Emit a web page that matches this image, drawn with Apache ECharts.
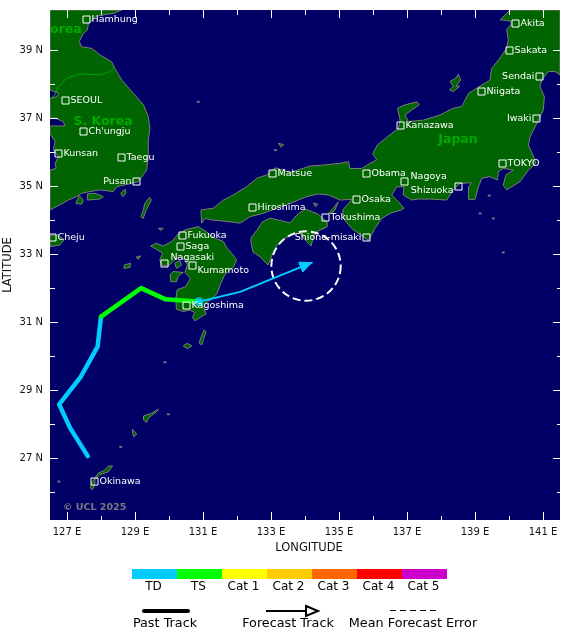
<!DOCTYPE html>
<html><head><meta charset="utf-8">
<style>html,body{margin:0;padding:0;background:#fff}#c{width:580px;height:639px}</style>
<script src="https://cdn.jsdelivr.net/npm/echarts@6/dist/echarts.min.js"></script>
</head><body><div id="c"></div>
<script>
// ---- data (degrees longitude, latitude) ----
const lonMajor=[127,129,131,133,135,137,139,141];
const lonMinor=[128,130,132,134,136,138,140];
const latMajor=[27,29,31,33,35,37,39];
const latMinor=[26,28,30,32,34,36,38];
const pastTD=[[127.61,27.06],[127.09,27.89],[126.77,28.58],[127.41,29.40],[127.90,30.28],[128.0,31.16]];
const pastTS=[[128.0,31.16],[129.18,32.0],[129.90,31.67],[130.88,31.60]];
const forecastTrack=[[130.88,31.60],[132.09,31.89],[134.20,32.75]];
const currentPos=[[130.88,31.60]];
const errorCircle=[[134.03,32.65,1.02]];
const koreaBorder=[[126.52,37.58],[126.65,37.68],[126.72,37.91],[126.99,38.17],[127.38,38.30],[127.97,38.27],[128.26,38.37],[128.41,38.51]];
const korea=[[126.5,40.18],[128.61,40.18],[128.36,40.08],[127.87,40.00],[127.63,39.79],[127.60,39.59],[127.48,39.49],[127.36,39.25],[127.43,39.10],[127.73,39.05],[127.97,38.86],[128.31,38.66],[128.41,38.46],[128.61,38.12],[128.95,37.73],[129.25,37.39],[129.39,37.04],[129.44,36.70],[129.39,36.36],[129.39,35.87],[129.34,35.47],[129.10,35.13],[128.90,35.08],[128.46,34.98],[128.36,34.84],[127.97,34.89],[127.68,34.84],[127.43,34.79],[127.28,34.69],[127.04,34.59],[126.79,34.45],[126.5,34.30],[126.5,35.47],[126.68,35.52],[126.65,35.67],[126.75,35.87],[126.60,36.06],[126.65,36.31],[126.5,36.55],[126.5,36.77],[126.94,36.77],[126.89,36.90],[126.65,37.0],[126.5,37.0],[126.5,37.58],[126.70,37.63],[126.75,37.73],[126.5,37.83]];
const honshu=[[130.94,34.30],[131.30,34.35],[131.60,34.59],[131.89,34.74],[132.28,34.98],[132.58,35.23],[132.87,35.33],[133.12,35.54],[133.36,35.47],[133.56,35.40],[134.15,35.59],[134.54,35.62],[135.03,35.67],[135.28,35.72],[135.32,35.52],[135.67,35.52],[135.91,35.67],[136.11,35.77],[135.99,35.95],[136.13,36.21],[136.50,36.51],[136.75,36.70],[136.80,36.94],[136.72,37.29],[136.94,37.39],[137.29,37.48],[137.36,37.39],[137.14,37.24],[136.94,37.09],[137.04,36.90],[137.48,36.94],[137.97,37.09],[138.36,37.29],[138.61,37.34],[138.81,37.73],[139.05,37.88],[139.44,38.12],[139.49,38.46],[139.69,38.71],[139.93,39.05],[139.98,39.30],[139.93,39.59],[140.08,39.79],[139.98,39.87],[139.74,39.89],[140.03,40.18],[141.5,40.18],[141.5,38.27],[141.35,38.37],[141.16,38.37],[140.96,38.12],[140.91,37.93],[141.04,37.63],[141.01,37.24],[140.82,36.85],[140.62,36.45],[140.57,36.21],[140.72,35.87],[140.79,35.67],[140.57,35.47],[140.32,35.13],[139.93,34.89],[139.83,35.03],[139.91,35.33],[140.13,35.47],[139.83,35.52],[139.69,35.43],[139.66,35.18],[139.44,35.28],[139.20,35.23],[139.10,34.98],[139.0,34.61],[138.81,34.61],[138.81,34.98],[138.90,35.10],[138.56,35.08],[138.36,34.89],[138.17,34.59],[137.68,34.62],[137.33,34.62],[137.14,34.59],[136.89,34.74],[136.91,34.98],[136.70,34.98],[136.55,34.74],[136.75,34.54],[136.91,34.35],[136.84,34.30],[136.50,34.20],[136.26,34.05],[136.06,33.76],[135.86,33.40],[135.57,33.61],[135.37,33.76],[135.13,34.05],[135.11,34.30],[135.28,34.49],[135.37,34.61],[135.03,34.59],[134.69,34.74],[134.39,34.77],[134.05,34.69],[133.56,34.49],[132.77,34.20],[132.38,34.10],[132.09,33.91],[131.79,33.95],[131.30,34.0],[131.06,34.05],[130.96,33.91]];
const shikoku=[[132.41,33.47],[132.59,33.71],[132.74,33.94],[132.97,34.06],[133.56,33.92],[133.76,34.15],[134.0,34.33],[134.38,34.18],[134.65,33.94],[134.65,33.80],[134.38,33.68],[134.24,33.50],[134.18,33.24],[134.0,33.42],[133.85,33.62],[133.71,33.59],[133.41,33.47],[133.18,33.27],[133.03,32.97],[132.91,32.68],[132.68,32.92],[132.47,33.06],[132.41,33.36]];
const kyushu=[[129.46,33.24],[129.63,33.32],[129.83,33.24],[130.08,33.37],[130.27,33.59],[130.47,33.71],[130.86,33.81],[131.10,33.66],[131.35,33.47],[131.60,33.37],[131.71,33.17],[131.84,33.03],[131.99,32.83],[131.89,32.61],[131.64,32.39],[131.50,32.09],[131.42,31.85],[131.25,31.67],[131.06,31.55],[131.03,31.41],[131.09,31.24],[130.93,31.14],[130.76,31.04],[130.69,31.14],[130.76,31.28],[130.61,31.36],[130.42,31.31],[130.22,31.38],[130.20,31.67],[130.24,31.95],[130.50,32.05],[130.63,32.29],[130.47,32.46],[130.54,32.68],[130.47,32.83],[130.32,32.93],[130.17,32.83],[129.98,32.65],[129.78,32.68],[129.73,32.83],[129.81,33.03],[129.63,33.14]];
const amakusa=[[130.03,32.39],[130.12,32.49],[130.42,32.46],[130.27,32.36],[130.22,32.19],[130.05,32.19]];
const shimabara=[[130.17,32.73],[130.32,32.81],[130.37,32.68],[130.22,32.58]];
const yakushima=[[130.42,30.30],[130.54,30.38],[130.67,30.30],[130.54,30.22]];
const tanegashima=[[131.03,30.77],[131.09,30.72],[131.01,30.48],[130.96,30.33],[130.89,30.38],[130.93,30.53]];
const amami=[[129.25,28.24],[129.49,28.32],[129.69,28.44],[129.64,28.37],[129.39,28.17],[129.34,28.05],[129.25,28.12]];
const tokunoshima=[[128.92,27.85],[129.05,27.71],[128.97,27.63],[128.93,27.73]];
const okinawa=[[128.34,26.77],[128.22,26.60],[127.97,26.51],[127.82,26.36],[127.82,26.21],[127.75,26.07],[127.68,26.13],[127.75,26.31],[127.92,26.56],[128.12,26.65],[128.22,26.77]];
const cheju=[[126.5,33.55],[126.75,33.56],[126.91,33.42],[126.79,33.27],[126.5,33.22]];
const tsushima=[[129.29,34.49],[129.43,34.67],[129.48,34.59],[129.33,34.30],[129.24,34.05],[129.17,34.10],[129.23,34.25]];
const koreaIsle1=[[127.26,34.49],[127.36,34.72],[127.48,34.59],[127.43,34.47]];
const koreaIsle2=[[127.60,34.77],[127.82,34.79],[128.07,34.69],[127.97,34.62],[127.60,34.59]];
const koreaIsle3=[[128.58,34.79],[128.71,34.91],[128.74,34.81],[128.64,34.69]];
const okiIsle=[[133.22,36.26],[133.37,36.22],[133.3,36.14]];
const ikiIsle=[[129.69,33.76],[129.83,33.76],[129.76,33.69]];
const hiradoIsle=[[129.03,32.91],[129.17,32.95],[129.10,32.85]];
const gotoIsle=[[128.68,32.68],[128.87,32.73],[128.85,32.61],[128.68,32.58]];
const awaji=[[134.69,34.20],[134.83,34.35],[134.98,34.54],[134.88,34.30],[134.79,34.20]];
const shodoshima=[[134.25,34.5],[134.37,34.47],[134.31,34.39]];
const sado=[[138.51,38.29],[138.58,38.12],[138.44,37.94],[138.56,37.94],[138.36,37.78],[138.25,37.83],[138.36,37.94],[138.27,38.08],[138.44,38.18]];
const landPolygons=[korea,honshu,shikoku,kyushu,amakusa,shimabara,yakushima,tanegashima,amami,tokunoshima,okinawa,cheju,tsushima,koreaIsle1,koreaIsle2,koreaIsle3,okiIsle,ikiIsle,hiradoIsle,gotoIsle,awaji,shodoshima,sado];
const tinyIslands=[[130.86,37.48],[133.13,36.06],[139.42,34.72],[139.54,34.05],[139.15,34.2],[139.83,33.05],[128.58,27.33],[129.88,29.82],[129.98,28.29],[126.76,26.31]];
const cityNames=['Hamhung','SEOUL',"Ch'ungju",'Kunsan','Taegu','Pusan','Cheju','Fukuoka','Saga','Nagasaki','Kumamoto','Matsue','Hiroshima','Akita','Sakata','Sendai','Niigata','Iwaki','Kanazawa','TOKYO','Obama','Nagoya','Shizuoka','Osaka','Tokushima','Shiono-misaki','Kagoshima','Okinawa'];
const cityLon=[127.55,126.93,127.48,126.74,128.60,129.04,126.55,130.39,130.31,129.86,130.69,133.02,132.45,140.19,140.01,140.89,139.19,140.80,136.80,139.80,135.80,136.92,138.51,135.51,134.60,135.80,130.50,127.80];
const cityLat=[39.91,37.52,36.61,35.97,35.85,35.14,33.49,33.55,33.25,32.75,32.67,35.38,34.38,39.79,38.99,38.23,37.79,36.99,36.79,35.67,35.38,35.14,34.99,34.61,34.08,33.49,31.49,26.32];
const landNames=['S. Korea','Japan'];
const landNameLon=[128.06,138.5];
const landNameLat=[36.89,36.36];
const stormCategories=['TD','TS','Cat 1','Cat 2','Cat 3','Cat 4','Cat 5'];
const stormColors=['#00ccff','#00ff00','#ffff00','#ffcc00','#ff6600','#ff0000','#cc00cc'];

// ---- styling only ----
const FONT='"DejaVu Sans"';
const leftLabels={Pusan:1,Sendai:1,Iwaki:1,'Shiono-misaki':1};
const labelShift={Nagasaki:[1,-6],Kumamoto:[0,5],Nagoya:[1,-5],Shizuoka:[0,4]};
function xAx(pos,vals,len,label){return {type:'value',position:pos,min:126.5,max:141.5,z:5,splitLine:{show:false},axisLine:{show:false},
  axisTick:{show:true,inside:true,length:len,customValues:vals,lineStyle:{color:'#fff',width:1}},
  axisLabel:label?{show:true,customValues:vals,formatter:v=>v+' E',margin:7,color:'#111',fontFamily:FONT,fontSize:10}:{show:false}}}
function yAx(pos,vals,len,label){return {type:'value',position:pos,min:25.18,max:40.18,z:5,splitLine:{show:false},axisLine:{show:false},
  axisTick:{show:true,inside:true,length:len,customValues:vals,lineStyle:{color:'#fff',width:1}},
  axisLabel:label?{show:true,customValues:vals,formatter:v=>v+' N',margin:7,color:'#111',fontFamily:FONT,fontSize:10}:{show:false}}}
const xAxes=[Object.assign(xAx('bottom',lonMajor,8,true),{name:'LONGITUDE',nameLocation:'middle',nameGap:19,nameTextStyle:{color:'#111',fontFamily:FONT,fontSize:11.5,padding:[0,0,0,8]}}),xAx('bottom',lonMinor,4,false),xAx('top',lonMajor,8,false),xAx('top',lonMinor,5,false)];
const yAxes=[Object.assign(yAx('left',latMajor,8,true),{name:'LATITUDE',nameLocation:'middle',nameGap:36,nameMoveOverlap:false,nameTextStyle:{color:'#111',fontFamily:FONT,fontSize:11.5}}),yAx('left',latMinor,5,false),yAx('right',latMajor,7,false),yAx('right',latMinor,3,false)];

const land={type:'custom',coordinateSystem:'cartesian2d',clip:true,z:2,silent:true,data:landPolygons.map((p,i)=>[p[0][0],p[0][1],i]),encode:{x:0,y:1},
  renderItem(params,api){const pts=landPolygons[api.value(2)].map(p=>api.coord(p));
    return {type:'polygon',shape:{points:pts},style:{fill:'#006400',stroke:'#7c7c7c',lineWidth:1}}}};
const lineS=(d,c,w,z)=>({type:'line',data:d,symbol:'none',z:z,silent:true,clip:true,lineStyle:{color:c,width:w,cap:'round',join:'round'}});
const tiny={type:'scatter',data:tinyIslands,symbol:'rect',symbolSize:[3,2],z:2,silent:true,itemStyle:{color:'#8a8a8a'}};
const circleS={type:'custom',z:4,silent:true,clip:false,data:errorCircle,encode:{x:0,y:1},renderItem(params,api){const c=api.coord([api.value(0),api.value(1)]);const r=api.size([api.value(2),0])[0];
    return {type:'circle',shape:{cx:c[0],cy:c[1],r:r},style:{fill:'none',stroke:'#fff',lineWidth:2,lineDash:[8,4]}}}};
const arrowS={type:'custom',z:5,silent:true,data:[forecastTrack[2]],encode:{x:0,y:1},renderItem(params,api){
    const t=api.coord(forecastTrack[2]),b=api.coord(forecastTrack[1]);let dx=t[0]-b[0],dy=t[1]-b[1];const n=Math.hypot(dx,dy);dx/=n;dy/=n;
    const L=12,W=5.3;return {type:'polygon',shape:{points:[t,[t[0]-L*dx-W*dy,t[1]-L*dy+W*dx],[t[0]-L*dx+W*dy,t[1]-L*dy-W*dx]]},style:{fill:'#00ccff',stroke:'#00ccff',lineWidth:1}}}};
const cities={type:'custom',z:7,silent:true,clip:false,data:cityNames.map((n,i)=>[cityLon[i],cityLat[i],i]),encode:{x:0,y:1},renderItem(params,api){
    const i=api.value(2),n=cityNames[i],c=api.coord([api.value(0),api.value(1)]);const s=labelShift[n]||[0,0];const x=Math.round(c[0])+.5,y=Math.round(c[1])+.5;
    const left=leftLabels[n]||n==='Shizuoka';
    return {type:'group',children:[{type:'rect',shape:{x:x-3.5,y:y-3.5,width:7,height:7},style:{fill:'none',stroke:'#fff',lineWidth:1}},
      {type:'text',x:x+(left?-5:5)+s[0],y:y+s[1],style:{text:n,fill:'#fff',font:'9.5px '+FONT,align:left?'right':'left',verticalAlign:'middle'}}]}}};
const names={type:'custom',z:6,silent:true,clip:false,data:landNames.map((n,i)=>[landNameLon[i],landNameLat[i],i]),encode:{x:0,y:1},renderItem(params,api){
    const c=api.coord([api.value(0),api.value(1)]);return {type:'text',x:c[0],y:c[1],style:{text:landNames[api.value(2)],fill:'#00aa00',font:'bold 12.5px '+FONT,align:'center',verticalAlign:'middle'}}}};
const barX=132,segW=45;
const graphic=[{type:'text',left:50,top:23,z:6,style:{text:'orea',fill:'#00aa00',font:'bold 12.5px '+FONT}},
 {type:'text',left:63,top:503,z:6,style:{text:'© UCL 2025',fill:'#7a7a7a',font:'bold 9.5px '+FONT}}];
stormCategories.forEach((c,i)=>{
  graphic.push({type:'rect',shape:{x:barX+i*segW,y:569,width:segW,height:10},style:{fill:stormColors[i]}});
  graphic.push({type:'text',x:barX+i*segW+segW/2-1,y:587,style:{text:c,fill:'#000',font:'12px '+FONT,align:'center',verticalAlign:'middle'}});
});
graphic.push(
 {type:'line',shape:{x1:144,y1:611,x2:188,y2:611},style:{stroke:'#000',lineWidth:4,lineCap:'round'}},
 {type:'text',x:165,y:624,style:{text:'Past Track',fill:'#000',font:'12.8px '+FONT,align:'center',verticalAlign:'middle'}},
 {type:'line',shape:{x1:266,y1:611,x2:306,y2:611},style:{stroke:'#000',lineWidth:2}},
 {type:'polygon',shape:{points:[[306,606],[318,611],[306,616]]},style:{fill:'#fff',stroke:'#000',lineWidth:2}},
 {type:'text',x:288,y:624,style:{text:'Forecast Track',fill:'#000',font:'12.8px '+FONT,align:'center',verticalAlign:'middle'}},
 {type:'line',shape:{x1:390,y1:610.5,x2:436,y2:610.5},style:{stroke:'#000',lineWidth:1,lineDash:[6,4]}},
 {type:'text',x:413,y:624,style:{text:'Mean Forecast Error',fill:'#000',font:'12.8px '+FONT,align:'center',verticalAlign:'middle'}}
);
const chart=echarts.init(document.getElementById('c'),null,{renderer:'canvas'});
chart.setOption({animation:false,backgroundColor:'#fff',
 grid:{left:50,right:20,top:10,bottom:119,show:true,backgroundColor:'#000066',borderWidth:0,outerBoundsMode:'none'},
 xAxis:xAxes,yAxis:yAxes,graphic:graphic,
 series:[land,tiny,lineS(koreaBorder,'#00aa00',1,3),
  lineS(pastTD,'#00ccff',4.5,4),lineS(pastTS,'#00ff00',4.5,4),lineS(forecastTrack,'#00ccff',2,4),
  circleS,arrowS,
  {type:'scatter',data:currentPos,symbol:'circle',symbolSize:9,z:5,silent:true,itemStyle:{color:'#00ccff'}},
  names,cities]});
</script></body></html>
